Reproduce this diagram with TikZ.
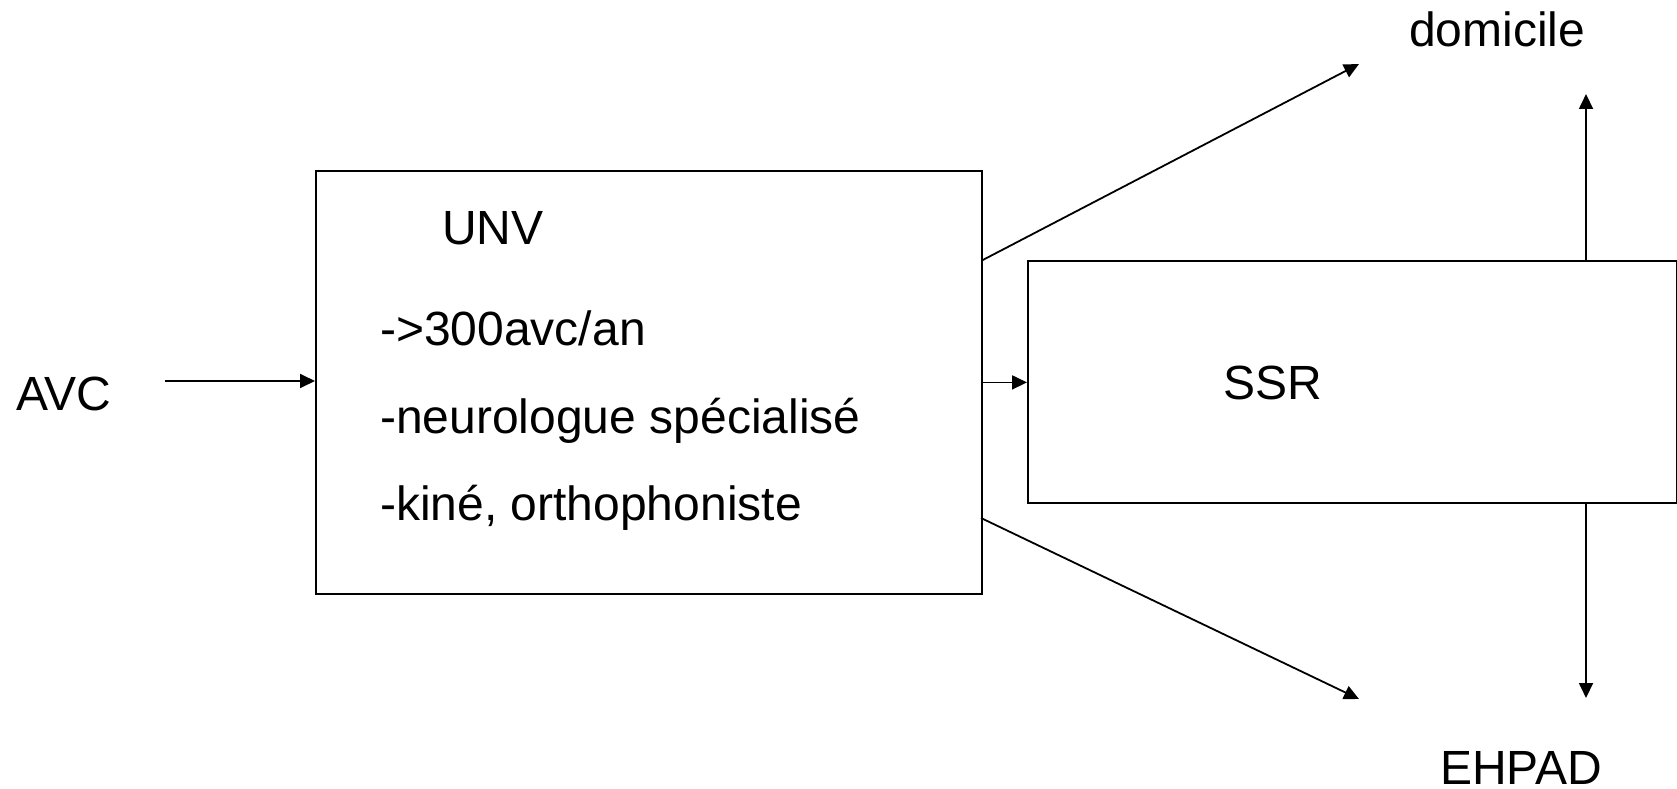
\documentclass[tikz,border=0pt]{standalone}
\usepackage{fontspec}
\setmainfont{Liberation Sans}
\usetikzlibrary{arrows.meta}
\tikzset{
  box/.style={draw, line width=1.8pt, rectangle, inner sep=0pt, anchor=north west},
  lbl/.style={anchor=base west, inner sep=0pt, font=\fontsize{48}{56}\selectfont},
  arr/.style={line width=1.8pt, -{Triangle[length=15pt,width=14pt]}}
}
\begin{document}
\begin{tikzpicture}[x=1pt,y=-1pt]
\useasboundingbox (0,0) rectangle (1677,789);
% boxes
\node[box, minimum width=666pt, minimum height=423pt] (unv) at (315,170) {};
\node[box, minimum width=649pt, minimum height=242pt] (ssr) at (1027,260) {};
% texts
\node[lbl] (avc) at (16,410) {AVC};
\node[lbl] (unvt) at (442,244) {UNV};
\node[lbl] (l1) at (380,345) {->300avc/an};
\node[lbl] (l2) at (380,433) {-neurologue spécialisé};
\node[lbl] (l3) at (380,520) {-kiné, orthophoniste};
\node[lbl] (ssrt) at (1223,399) {SSR};
\node[lbl] (dom) at (1409,47) {domicile};
\node[lbl] (ehpad) at (1440,784) {EHPAD};
% coordinates
\coordinate (avcout) at (165,381);
\coordinate (dtip) at (1359,64);
\coordinate (etip) at (1359,699);
\coordinate (ebot) at (981,518);
\coordinate (upx) at (1586,94);
\coordinate (downx) at (1586,698);
% connectors
\draw[arr] (avcout) -- (unv.west |- avcout);
\draw[arr] (unv.east) -- (ssr.west |- unv.east);
\draw[arr] (unv.east |- ssr.north) -- (dtip);
\draw[arr] (ebot) -- (etip);
\draw[arr] (ssr.north -| upx) -- (upx);
\draw[arr] (ssr.south -| downx) -- (downx);
\end{tikzpicture}
\end{document}
